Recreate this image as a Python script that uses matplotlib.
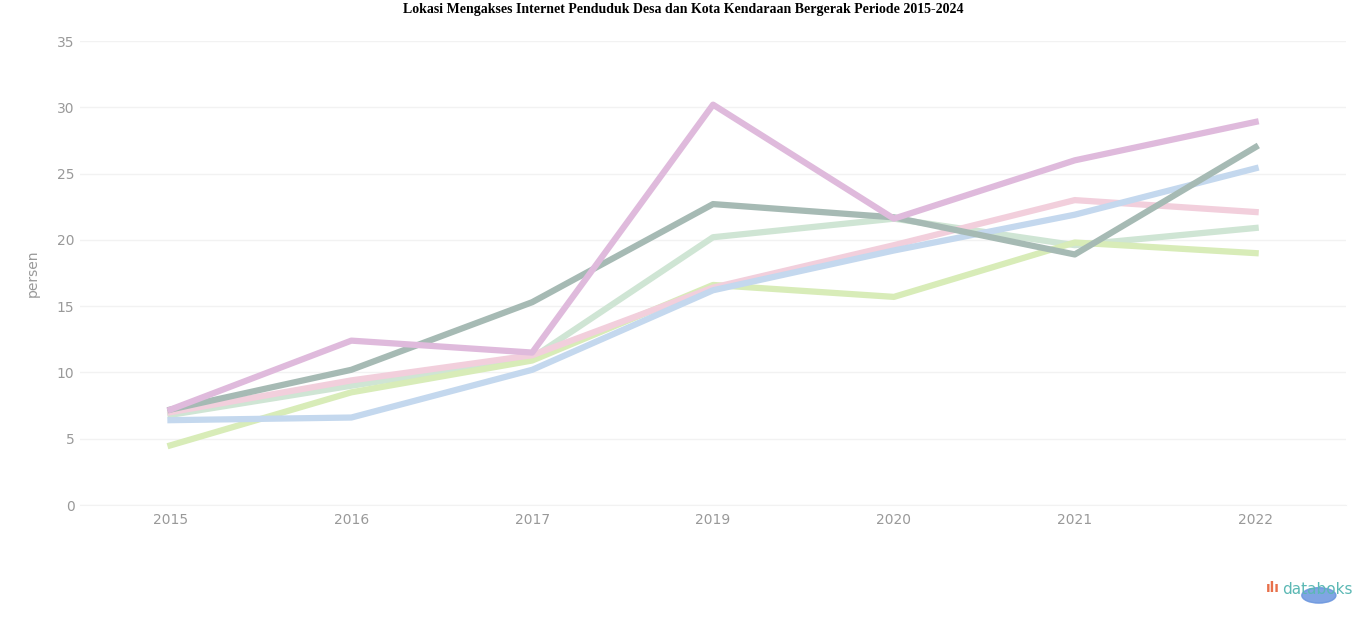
import matplotlib.pyplot as plt
import numpy as np

# Data (perkiraan)
years = ['2015', '2016', '2017', '2019', '2020', '2021', '2022']
seri_a = [7.2, 12.4, 11.5, 30.2, 21.6, 26.0, 28.9]
seri_b = [7.2, 10.2, 15.3, 22.7, 21.7, 18.9, 27.0]
seri_c = [6.4, 6.6, 10.2, 16.2, 19.2, 21.9, 25.4]
seri_d = [4.5, 8.5, 10.9, 16.6, 15.7, 19.8, 19.0]
seri_e = [6.8, 9.0, 11.1, 20.2, 21.6, 19.6, 20.9]
seri_f = [7.0, 9.4, 11.3, 16.4, 19.6, 23.0, 22.1]

series = [
    (seri_e, '#cfe5d4'),
    (seri_d, '#d8ecb8'),
    (seri_f, '#f2cfdc'),
    (seri_c, '#c4d8ee'),
    (seri_b, '#a6bab4'),
    (seri_a, '#dfbadc'),
]

fig = plt.figure(figsize=(13.66, 6.17), dpi=100)
ax = fig.add_axes([0.0586, 0.1815, 0.9268, 0.752])

x = np.arange(len(years))
for vals, col in series:
    ax.plot(x, vals, color=col, linewidth=4.5)

ax.set_xlim(-0.5, len(years) - 0.5)
ax.set_ylim(0, 35)
ax.set_yticks(np.arange(0, 36, 5))
ax.set_xticks(x)
ax.set_xticklabels(years)
ax.grid(axis='y', color='#f2f2f2', linewidth=1)
ax.set_axisbelow(True)
for s in ['top', 'right', 'left']:
    ax.spines[s].set_visible(False)
ax.spines['bottom'].set_color('#f2f2f2')
ax.tick_params(length=0, colors='#999999', labelsize=10)
ax.tick_params(axis='x', pad=6)
ax.tick_params(axis='y', pad=4)
ax.set_ylabel('persen', color='#999999', fontsize=10, labelpad=12)

fig.suptitle('Lokasi Mengakses Internet Penduduk Desa dan Kota Kendaraan Bergerak Periode 2015-2024',
             fontfamily='Liberation Serif', fontweight='bold', fontsize=10, y=0.995, va='top')

# logo databoks
fig.text(0.9385, 0.038, 'databoks', color='#5bb8b4', fontsize=11, fontfamily='DejaVu Sans')
fig.text(0.927, 0.04, 'ılı', color='#e8704a', fontsize=10, fontweight='bold')
fig.patches.append(plt.Circle((0.9655, 0.035), 0.0125, transform=fig.transFigure,
                              color='#6a95de', alpha=0.85))

plt.savefig('out.png')
